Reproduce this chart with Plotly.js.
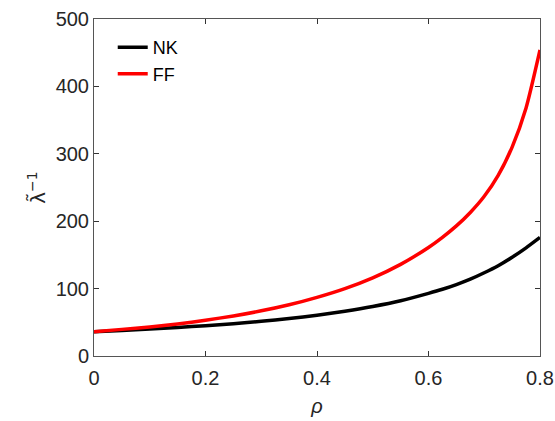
<!DOCTYPE html>
<html>
<head>
<meta charset="utf-8">
<script src="https://cdn.plot.ly/plotly-3.0.1.min.js"></script>
<style>html,body{margin:0;padding:0;background:#fff;}#chart{width:555px;height:421px;}</style>
</head>
<body>
<div id="chart"></div>
<script>
const rho = [0, 0.05, 0.1, 0.15, 0.2, 0.25, 0.3, 0.35, 0.4, 0.45, 0.5, 0.55, 0.6, 0.625, 0.65, 0.675, 0.7, 0.725, 0.75, 0.775, 0.8];
const valNK = [36, 37.8, 40, 42.3, 45, 48, 51.5, 55.5, 60.5, 66.5, 73.5, 82, 93, 99, 106, 114, 123.5, 134, 146.5, 160.5, 176];
const valFF = [36, 39.5, 43, 47.5, 53, 59.5, 67, 76, 87, 100, 116, 136, 161, 176, 193, 213, 237, 268, 310, 368, 454];
const seriesNames = ['NK', 'FF'];
const xTicks = [0, 0.2, 0.4, 0.6, 0.8];
const yTicks = [0, 100, 200, 300, 400, 500];

const font = 'Liberation Sans, Arial, sans-serif';
const traces = [
  {x: rho, y: valNK, name: seriesNames[0], mode: 'lines', line: {color: '#000000', width: 3.5, shape: 'spline', smoothing: 0.6}},
  {x: rho, y: valFF, name: seriesNames[1], mode: 'lines', line: {color: '#ff0000', width: 3.5, shape: 'spline', smoothing: 0.6}}
];
const axisCommon = {
  showgrid: false, zeroline: false, showline: true, linecolor: '#555555', linewidth: 1,
  mirror: 'ticks', ticks: 'inside', ticklen: 5, tickcolor: '#333333', tickwidth: 1,
  tickfont: {family: font, size: 20, color: '#262626'}
};
const layout = {
  width: 555, height: 421,
  margin: {l: 94, r: 15, t: 19, b: 65},
  paper_bgcolor: '#ffffff', plot_bgcolor: '#ffffff',
  showlegend: true,
  legend: {x: 0.042, y: 0.97, xanchor: 'left', yanchor: 'top', bgcolor: 'rgba(0,0,0,0)',
           font: {family: font, size: 18, color: '#000000'}, tracegroupgap: 0},
  xaxis: Object.assign({}, axisCommon, {range: [0, 0.8], tickvals: xTicks, ticktext: xTicks.map(String),
           ticklabelstandoff: 4,
           title: {text: '<i>ρ</i>', font: {family: font, size: 20, color: '#262626'}, standoff: 10}}),
  yaxis: Object.assign({}, axisCommon, {range: [0, 500], tickvals: yTicks, ticktext: yTicks.map(String),
           title: {text: 'λ\u0303<sup>−1</sup>', font: {family: 'DejaVu Sans, sans-serif', size: 20, color: '#262626'}, standoff: 4}})
};
Plotly.newPlot('chart', traces, layout, {staticPlot: true, displayModeBar: false});
</script>
</body>
</html>
